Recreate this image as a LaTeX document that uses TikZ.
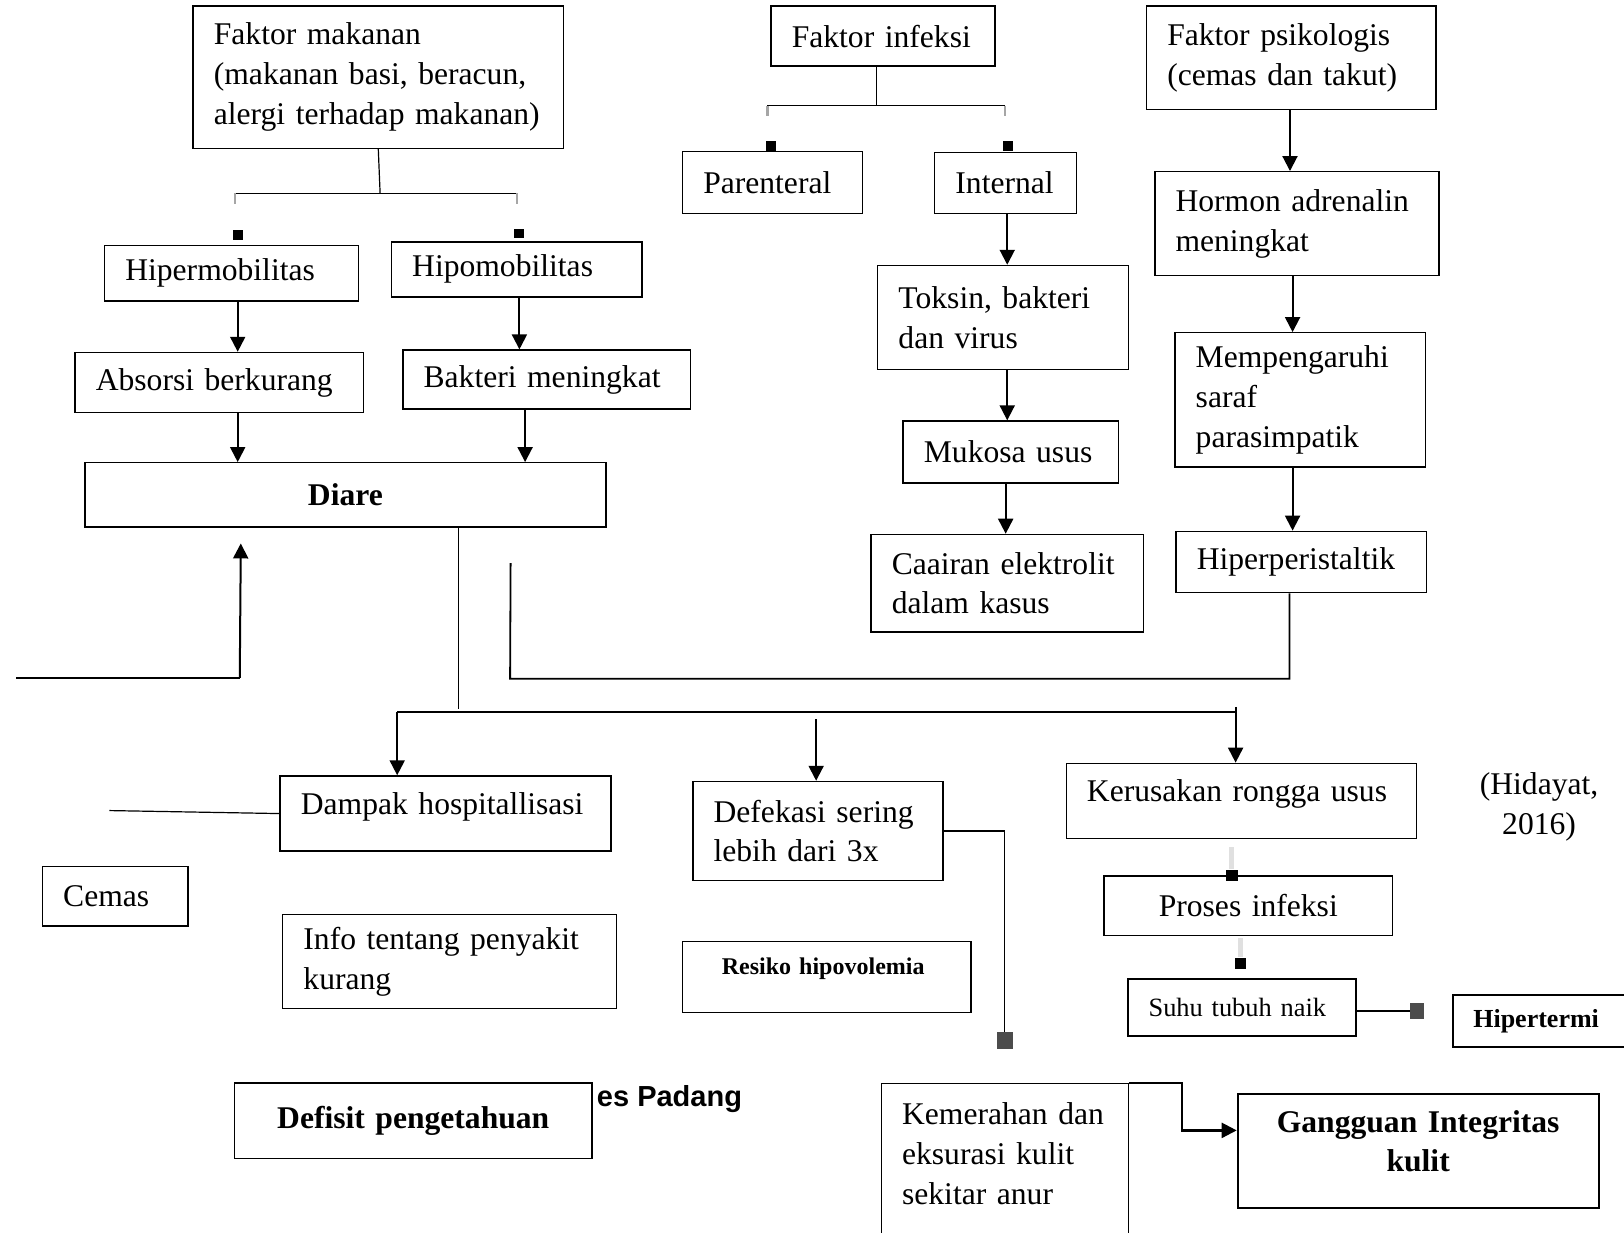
\documentclass[tikz,border=0pt]{standalone}
\usepackage{fontspec}
\setmainfont{Liberation Serif}
\setsansfont{Liberation Sans}
\usetikzlibrary{arrows.meta}
\newcommand{\upx}{0.5179pt}

\begin{document}
\begin{tikzpicture}[x=\upx, y=-\upx, >={Triangle[length=7.5pt,width=7.5pt]},
  font=\fontsize{15.8}{19.9}\selectfont,
  box/.style n args={2}{draw, line width=.7pt, inner ysep=0pt, inner xsep=20*\upx, align=left,
    minimum width=#1*\upx, minimum height=#2*\upx, text width=(#1-40)*\upx},
  mid/.style={align=center},
  bold/.style={font=\fontsize{15.8}{19.9}\selectfont\bfseries},
  sq/.style={fill, inner sep=0pt, minimum size=#1*\upx},
  tick/.style={black!35, line width=1.2pt},
  bar/.style={black!12, line width=2.5pt},
  arr/.style={->, line width=1pt}]
\useasboundingbox (0,0) rectangle (1568,1190);

\node[box={357.5}{137.6}] (makanan) at (365.25,74.5) {Faktor makanan\\(makanan basi, beracun,\\alergi terhadap makanan)};
\node[box={216}{58.2}] (infeksi) at (852.5,34.8) {Faktor infeksi};
\node[box={279.5}{100}] (psikologis) at (1246.75,55.7) {Faktor psikologis\\(cemas dan takut)};
\node[box={245}{53.6}] (hipermob) at (223.5,263.7) {Hipermobilitas};
\node[box={242}{53.2}] (hipomob) at (499,260.1) {Hipomobilitas};
\node[box={278.5}{58.2}] (absorsi) at (211.75,369.4) {Absorsi berkurang};
\node[box={277.5}{57}] (bakteri) at (527.75,366.5) {Bakteri meningkat};
\node[box={503}{61.9}, mid, bold] (diare) at (333.5,477.75) {Diare};
\node[box={174}{60}] (parenteral) at (746,176) {Parenteral};
\node[box={137}{58.5}] (internal) at (971,176.75) {Internal};
\node[box={242}{100.4}] (toksin) at (968.5,306.5) {Toksin, bakteri\\dan virus};
\node[box={208}{59.7}] (mukosa) at (976,436.35) {Mukosa usus};
\node[box={263}{94}] (cairan) at (972.5,563) {Caairan elektrolit\\dalam kasus};
\node[box={274.5}{100.4}] (hormon) at (1252.25,216) {Hormon adrenalin\\meningkat};
\node[box={242}{129.7}] (saraf) at (1255.5,386.15) {Mempengaruhi\\saraf\\parasimpatik};
\node[box={242}{59.2}] (peristaltik) at (1256.5,542.6) {Hiperperistaltik};
\node[box={319.5}{72.6}, text depth=10.4pt] (dampak) at (430.25,785.5) {Dampak hospitallisasi};
\node[box={140.5}{57.4}] (cemas) at (111.25,865.3) {Cemas};
\node[box={322}{90.9}] (info) at (434,928.45) {Info tentang penyakit\\kurang};
\node[box={345}{73.1}, mid, bold] (defisit) at (399,1082.25) {Defisit pengetahuan};
\node[box={241.5}{95.8}] (defekasi) at (789.75,802.4) {Defekasi sering\\lebih dari 3x};
\node[box={278.5}{68.1}, inner xsep=38*\upx, text width=202.5*\upx, text depth=10.9pt,
  font=\fontsize{12}{14}\selectfont\bfseries] (resiko) at (798.25,943.25) {Resiko hipovolemia};
\node[box={338}{72.6}, text depth=10.4pt] (kerusakan) at (1198.5,773.3) {Kerusakan rongga usus};
\node[box={278.5}{57.7}, mid] (proses) at (1205.25,874.65) {Proses infeksi};
\node[box={220.5}{55.1}, line width=1pt, font=\fontsize{13.2}{16}\selectfont] (suhu) at (1199.25,972.95) {Suhu tubuh naik};
\node[box={187.5}{50.2}, line width=1pt, font=\fontsize{13}{16}\selectfont\bfseries] (hipertermi) at (1496.25,985.7) {Hipertermi};
\node[box={238.5}{0}, anchor=north, text height=20.5pt, text depth=103.6pt] (kemerahan) at (970.25,1045.7) {Kemerahan dan\\eksurasi kulit\\sekitar anur};
\node[box={348.5}{109.9}, mid, bold, line width=1pt, text depth=29.5pt] (gangguan) at (1369.25,1110.95) {Gangguan Integritas\\kulit};
\node[align=center] (hidayat) at (1486,779) {(Hidayat,\\2016)};
\node[anchor=base west, inner sep=0pt, font=\fontsize{14.5}{17}\selectfont\sffamily\bfseries] (padang) at (576,1068.2) {es Padang};

% faktor makanan
\coordinate (jm) at (367,186.7);
\coordinate (jml) at (227,186.7);
\coordinate (jmr) at (499,186.7);
\draw[line width=.6pt] (makanan.south) -- (jm);
\draw[line width=.8pt] (jml) -- (jmr);
\draw[tick] (jml) -- ++(0,10);
\draw[tick] (jmr) -- ++(0,10);
\node[sq=9.5] (sqa) at (230,226.5) {};
\node[sq=9.5] (sqb) at (501.5,225.5) {};
\draw[arr] ([xshift=6*\upx]hipermob.south) -- ([xshift=6*\upx]hipermob.south |- absorsi.north);
\draw[arr] ([xshift=2.5*\upx]hipomob.south) -- ([xshift=2.5*\upx]hipomob.south |- bakteri.north);
\draw[arr] ([xshift=17.75*\upx]absorsi.south) -- ([xshift=17.75*\upx]absorsi.south |- diare.north);
\draw[arr] ([xshift=-20.75*\upx]bakteri.south) -- ([xshift=-20.75*\upx]bakteri.south |- diare.north);

% faktor infeksi
\coordinate (ji) at (846,101.9);
\coordinate (jil) at (741,101.9);
\coordinate (jir) at (970.5,101.9);
\draw[line width=.6pt] (infeksi.south -| ji) -- (ji);
\draw[line width=.8pt] (jil) -- (jir);
\draw[tick] (jil) -- ++(0,10);
\draw[tick] (jir) -- ++(0,10);
\node[sq=9.5] (sqc) at (744,141) {};
\node[sq=9.5] (sqe) at (973,141) {};
\draw[arr] ([xshift=1.5*\upx]internal.south) -- ([xshift=1.5*\upx]internal.south |- toksin.north);
\draw[arr] ([xshift=4*\upx]toksin.south) -- ([xshift=4*\upx]toksin.south |- mukosa.north);
\draw[arr] ([xshift=-5*\upx]mukosa.south) -- ([xshift=-5*\upx]mukosa.south |- cairan.north);

% faktor psikologis
\draw[arr] ([xshift=-1.25*\upx]psikologis.south) -- ([xshift=-1.25*\upx]psikologis.south |- hormon.north);
\draw[arr] ([xshift=-4.25*\upx]hormon.south) -- ([xshift=-4.25*\upx]hormon.south |- saraf.north);
\draw[arr] ([xshift=-7.5*\upx]saraf.south) -- ([xshift=-7.5*\upx]saraf.south |- peristaltik.north);

% dari diare
\coordinate (kiri) at (15.5,654.5);
\coordinate (naik) at (231.5,654.5);
\coordinate (ujung) at (232.5,524.7);
\draw[line width=.8pt] (kiri) -- (naik);
\draw[arr] (naik) -- (ujung);
\coordinate (batang) at (442.5,684.5);
\draw[line width=.5pt] (diare.south -| batang) -- (batang);
\coordinate (pb) at (1245,655.3);
\coordinate (pc) at (492.5,655.3);
\coordinate (pd) at (493,543.7);
\draw[line width=.9pt] (peristaltik.south -| pb) -- (pb) -- (pc) -- (pd);
\coordinate (bus1) at (383.5,687.2);
\coordinate (bus2) at (1193,687.2);
\draw[line width=.8pt] (bus1) -- (bus2);
\draw[arr] (bus1) -- (bus1 |- dampak.north);
\coordinate (def0) at (788,694.4);
\draw[arr] (def0) -- (def0 |- defekasi.north);
\coordinate (rus0) at (1193,682.6);
\draw[arr] (rus0) -- (rus0 |- kerusakan.north);
\coordinate (cm) at (105.5,782.6);
\draw[line width=.6pt] (cm) -- (dampak.west);

% defekasi
\node[sq=15.5, fill=black!70] (sqd) at (970,1004.6) {};
\draw[line width=.8pt] (defekasi.east) -| (sqd.north);

% kerusakan
\node[sq=11] (sqp) at (1189.5,845) {};
\node[sq=11] (sqq) at (1197.5,930.3) {};
\draw[bar] ([yshift=-4pt]kerusakan.south -| sqp) -- (sqp.north);
\draw[bar] ([yshift=-1pt]proses.south -| sqq) -- (sqq.north);
\node[sq=13, minimum height=16*\upx, fill=black!70] (sqh) at (1368,976) {};
\draw[line width=1.2pt] (suhu.east |- sqh) -- (sqh.west);

% kemerahan
\coordinate (kg) at (1141,1091.4);
\draw[arr, line width=1.2pt] (kemerahan.north east) -| (kg) -- (kg -| gangguan.west);
\end{tikzpicture}
\end{document}
